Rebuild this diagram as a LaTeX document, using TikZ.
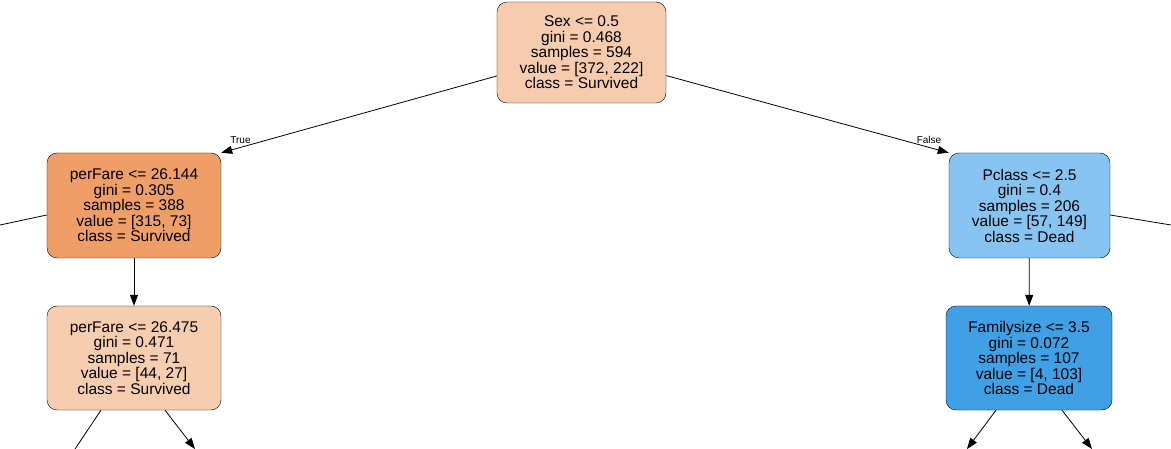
\documentclass[tikz,border=0pt]{standalone}
\usepackage{fontspec}
\setmainfont{Liberation Sans}
\usepackage{tikz}
\usetikzlibrary{arrows.meta}

\definecolor{rootcol}{HTML}{F6CBAE}
\definecolor{leftcol}{HTML}{EE9E66}
\definecolor{paleorange}{HTML}{F7CDB0}
\definecolor{lightblue}{HTML}{88C4F2}
\definecolor{deepblue}{HTML}{3FA0E6}

\tikzset{
	split/.style={draw, rounded corners=10pt, align=center, inner sep=0pt,
		minimum height=101pt, font=\fontsize{15.5}{15.5}\selectfont},
	edge/.style={-{Triangle[length=11pt,width=8pt]}, line width=0.8pt}
}

\begin{document}
\begin{tikzpicture}[x=1pt, y=-1pt]
	\useasboundingbox (0,0) rectangle (1171,449);

	\node[split, fill=rootcol, minimum width=169pt] (root) at (581.5, 52.5)
		{Sex <= 0.5\\gini = 0.468\\samples = 594\\value = [372, 222]\\class = Survived};
	\node[split, fill=leftcol, minimum width=174pt, minimum height=105pt] (perfareA) at (134, 205.5)
		{perFare <= 26.144\\gini = 0.305\\samples = 388\\value = [315, 73]\\class = Survived};
	\node[split, fill=lightblue, minimum width=161pt, minimum height=105pt] (pclass) at (1029.5, 205.5)
		{Pclass <= 2.5\\gini = 0.4\\samples = 206\\value = [57, 149]\\class = Dead};
	\node[split, fill=paleorange, minimum width=174pt, minimum height=104pt] (perfareB) at (134, 358)
		{perFare <= 26.475\\gini = 0.471\\samples = 71\\value = [44, 27]\\class = Survived};
	\node[split, fill=deepblue, minimum width=166pt, minimum height=104pt] (famsize) at (1029, 358)
		{Familysize <= 3.5\\gini = 0.072\\samples = 107\\value = [4, 103]\\class = Dead};

	\coordinate (outL) at (0, 225);
	\coordinate (outR) at (1171, 225);
	\coordinate (bA) at (75, 449);
	\coordinate (bB) at (195, 449);
	\coordinate (bC) at (967, 449);
	\coordinate (bD) at (1092, 449);

	\draw[edge] (root) -- (perfareA.north east) node[pos=0.93, above] {True};
	\draw[edge] (root) -- (pclass.north west) node[pos=0.93, above] {False};
	\draw[edge] (perfareA) -- (perfareB);
	\draw[edge] (pclass) -- (famsize);

	\draw[line width=0.8pt] (perfareA.west |- 0,215) -- (outL);
	\draw[line width=0.8pt] (pclass.east |- 0,215) -- (outR);
	\draw[line width=0.8pt] (perfareB.south) ++(-33,0) -- (bA);
	\draw[edge] (perfareB.south) ++(31,0) -- (bB);
	\draw[edge] (famsize.south) ++(-33,0) -- (bC);
	\draw[edge] (famsize.south) ++(33,0) -- (bD);
\end{tikzpicture}
\end{document}
